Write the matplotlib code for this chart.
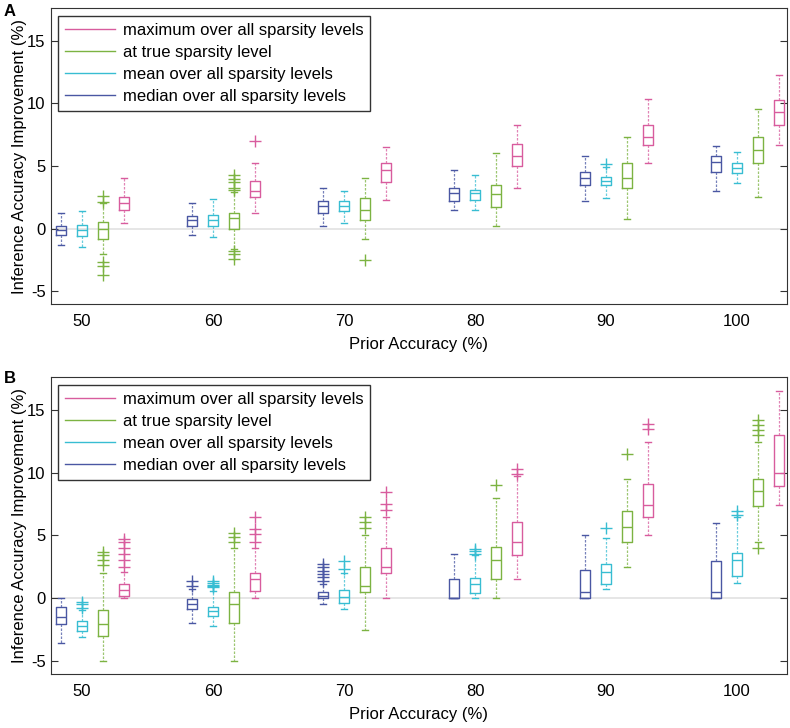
import numpy as np
import matplotlib
matplotlib.use("Agg")
import matplotlib.pyplot as plt
from matplotlib.lines import Line2D

plt.rcParams['font.family'] = ['Liberation Sans', 'DejaVu Sans']
plt.rcParams['axes.unicode_minus'] = False

# prior accuracy levels and the four summary series (in plotting order)
prior = [50, 60, 70, 80, 90, 100]
series = ['median over all sparsity levels', 'mean over all sparsity levels',
          'at true sparsity level', 'maximum over all sparsity levels']
colors = ['#4a57a3', '#38bdd2', '#7cb342', '#d85c9e']

# ---- panel A: rows = median, mean, true, max ; columns = prior levels
A_med = [[-0.15, 0.65, 1.8, 2.8, 4.0, 5.3],
         [-0.15, 0.7, 1.8, 2.8, 3.8, 4.85],
         [0.0, 0.8, 1.5, 2.75, 4.0, 6.25],
         [2.05, 3.0, 4.7, 5.8, 7.3, 9.3]]
A_q1 = [[-0.55, 0.22, 1.2, 2.2, 3.45, 4.5],
        [-0.6, 0.2, 1.4, 2.3, 3.45, 4.45],
        [-0.8, 0.0, 0.7, 1.75, 3.25, 5.25],
        [1.48, 2.5, 3.75, 5.0, 6.7, 8.25]]
A_q3 = [[0.2, 0.98, 2.2, 3.25, 4.5, 5.8],
        [0.3, 1.1, 2.2, 3.1, 4.15, 5.25],
        [0.5, 1.2, 2.45, 3.5, 5.25, 7.3],
        [2.5, 3.8, 5.25, 6.75, 8.25, 10.25]]
A_lo = [[-1.3, -0.55, 0.2, 1.45, 2.2, 3.0],
        [-1.45, -0.65, 0.4, 1.45, 2.4, 3.65],
        [-2.05, -1.6, -0.8, 0.2, 0.75, 2.5],
        [0.47, 1.25, 2.25, 3.25, 5.25, 6.65]]
A_hi = [[1.25, 2.0, 3.25, 4.65, 5.8, 6.6],
        [1.4, 2.35, 3.0, 4.25, 4.9, 6.1],
        [2.0, 2.9, 4.0, 6.0, 7.3, 9.55],
        [4.0, 5.25, 6.5, 8.25, 10.3, 12.25]]
A_out = [[[], [], [], [], [], []],
         [[], [], [], [], [5.15], []],
         [[2.6, 2.15, -2.7, -3.0, -3.7],
          [4.25, 3.95, 3.75, 3.25, 3.05, -1.8, -2.05, -2.4],
          [-2.55], [], [], []],
         [[], [7.0], [], [], [], []]]

# ---- panel B
B_med = [[-1.5, -0.45, 0.2, 0.0, 0.5, 0.5],
         [-2.25, -1.05, 0.08, 1.14, 2.12, 3.05],
         [-2.05, -0.5, 1.0, 3.0, 5.65, 8.5],
         [0.65, 1.5, 2.5, 4.5, 7.45, 10.0]]
B_q1 = [[-2.05, -0.85, 0.0, 0.0, 0.0, 0.0],
        [-2.6, -1.4, -0.37, 0.43, 1.14, 1.73],
        [-3.05, -2.0, 0.48, 1.5, 4.5, 7.37],
        [0.2, 0.53, 2.0, 3.47, 6.5, 8.96]]
B_q3 = [[-0.7, -0.05, 0.48, 1.5, 2.28, 2.95],
        [-1.85, -0.7, 0.67, 1.62, 2.73, 3.6],
        [-0.98, 0.5, 2.47, 4.05, 6.97, 9.5],
        [1.12, 2.0, 3.98, 6.1, 9.1, 13.0]]
B_lo = [[-3.55, -2.0, -0.5, 0.0, 0.0, 0.0],
        [-3.1, -2.2, -0.9, 0.03, 0.75, 1.22],
        [-5.0, -5.0, -2.5, 0.0, 2.5, 4.45],
        [0.0, 0.0, 0.0, 1.5, 5.0, 7.45]]
B_hi = [[0.0, 0.75, 1.15, 3.5, 5.0, 6.0],
        [-0.95, 0.55, 2.0, 3.4, 4.8, 6.45],
        [2.0, 4.0, 5.0, 7.95, 9.5, 12.45],
        [2.05, 4.0, 6.5, 9.75, 12.45, 16.5]]
B_out = [[[], [1.4, 1.0], [2.75, 2.45, 2.2, 1.9, 1.65, 1.4], [], [], []],
         [[-0.3, -0.5, -0.75], [1.35, 1.2, 1.05, 0.95, 0.9], [2.95, 2.3],
          [3.9, 3.75, 3.55], [5.6], [6.95, 6.65]],
         [[3.7, 3.4, 3.0, 2.6], [5.15, 4.9, 4.5], [6.5, 6.1, 5.6], [9.0],
          [11.5], [14.2, 13.8, 13.4, 13.0, 4.0]],
         [[4.7, 4.45, 4.0, 3.5, 3.0, 2.5], [6.5, 5.5, 5.1, 4.5], [8.45, 7.5, 7.0],
          [10.25, 9.9], [13.9, 13.5], []]]

offsets = [-1.6, 0.0, 1.6, 3.2]


def draw_panel(ax, med, q1, q3, lo, hi, out):
    ax.axhline(0, color='#e2e2e2', lw=1.2, zorder=0)
    for s in range(4):
        stats = []
        for g in range(len(prior)):
            stats.append(dict(med=med[s][g], q1=q1[s][g], q3=q3[s][g],
                              whislo=lo[s][g], whishi=hi[s][g],
                              fliers=out[s][g]))
        c = colors[s]
        ax.bxp(stats, positions=[p + offsets[s] for p in prior],
               widths=0.8, capwidths=0.4, manage_ticks=False,
               boxprops=dict(color=c, lw=1.0),
               medianprops=dict(color=c, lw=1.0),
               whiskerprops=dict(color=c, lw=0.9, ls=(0, (2, 1.2)), alpha=0.75),
               capprops=dict(color=c, lw=1.0),
               flierprops=dict(marker='+', markeredgecolor=c, markersize=8,
                               markeredgewidth=1.0))
    ax.set_xlim(47.6, 103.8)
    ax.set_ylim(-6.05, 17.6)
    ax.set_xticks(prior)
    ax.set_yticks([-5, 0, 5, 10, 15])
    ax.tick_params(axis='x', length=0, labelsize=12, pad=7)
    ax.tick_params(axis='y', direction='in', length=5, right=True,
                   labelsize=12, color='#333333')
    for sp in ax.spines.values():
        sp.set_color('#333333')
    ax.set_xlabel('Prior Accuracy (%)', fontsize=12, labelpad=6)
    ax.set_ylabel('Inference Accuracy Improvement (%)', fontsize=12, labelpad=0)
    handles = [Line2D([], [], color=colors[s], lw=1.0) for s in range(3, -1, -1)]
    labels = [series[s] for s in range(3, -1, -1)]
    leg = ax.legend(handles, labels, loc='upper left', bbox_to_anchor=(0.01, 0.972),
                    borderaxespad=0, fancybox=False, edgecolor='#333333',
                    framealpha=1, fontsize=12, handlelength=3.0,
                    labelspacing=0.42, handletextpad=0.5, borderpad=0.4)
    leg.get_frame().set_linewidth(1.0)


fig = plt.figure(figsize=(7.9, 7.28), dpi=100)
axA = fig.add_axes([0.064, 0.582, 0.932, 0.407])
axB = fig.add_axes([0.064, 0.074, 0.932, 0.408])
draw_panel(axA, A_med, A_q1, A_q3, A_lo, A_hi, A_out)
draw_panel(axB, B_med, B_q1, B_q3, B_lo, B_hi, B_out)
fig.text(0.005, 0.994, 'A', fontsize=12, fontweight='bold', va='top')
fig.text(0.005, 0.491, 'B', fontsize=12, fontweight='bold', va='top')

fig.savefig('out.png', dpi=100)
